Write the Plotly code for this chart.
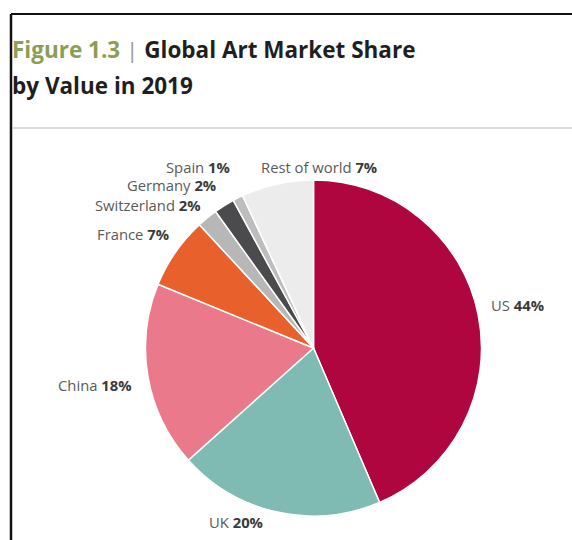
import plotly.graph_objects as go

# ---- data ----
countries = ["US", "UK", "China", "France", "Switzerland", "Germany", "Spain", "Rest of world"]
shares = [44, 20, 18, 7, 2, 2, 1, 7]
colors = ["#b0063f", "#7fbab3", "#ea7a8b", "#e8612c", "#b7b7b7", "#4b4b4d", "#bdbdbd", "#ececec"]

W, H = 572, 540

def px(x):
    return x / W

def py(y):
    return 1 - y / H

# pie placement (pixels): center and radius
cx, cy, r = 313.5, 348, 168

fig = go.Figure(go.Pie(
    labels=countries,
    values=shares,
    sort=False,
    direction="clockwise",
    rotation=0,
    marker=dict(colors=colors, line=dict(color="white", width=1.5)),
    textinfo="none",
    hoverinfo="label+percent",
    showlegend=False,
    domain=dict(x=[px(cx - r), px(cx + r)], y=[py(cy + r), py(cy - r)]),
))

# label placement (pixels): x, y, xanchor
label_pos = [
    (489, 305, "left"),
    (236, 522, "center"),
    (134, 385, "right"),
    (171, 234, "right"),
    (203, 205, "right"),
    (218, 185, "right"),
    (232, 167, "right"),
    (259, 167, "left"),
]

annotations = []
for name, v, (x, y, xa) in zip(countries, shares, label_pos):
    annotations.append(dict(
        x=px(x), y=py(y), xref="paper", yref="paper",
        xanchor=xa, yanchor="middle", showarrow=False,
        text=f"<span style='color:#5a5a5a'>{name}</span> <b>{v}%</b>",
        font=dict(family="Open Sans, sans-serif", size=14.8, color="#3a3a3a"),
    ))

title_font = dict(family="Open Sans, sans-serif", size=22.5, color="#1f1f1f", weight="bold")
annotations.append(dict(
    x=px(10), y=py(49), xref="paper", yref="paper", xanchor="left", yanchor="middle",
    showarrow=False,
    text="<span style='color:#8c9d55'>Figure 1.3</span><span style='color:#999999;font-weight:normal'> | </span>Global Art Market Share",
    font=title_font,
))
annotations.append(dict(
    x=px(10), y=py(86), xref="paper", yref="paper", xanchor="left", yanchor="middle",
    showarrow=False,
    text="by Value in 2019",
    font=title_font,
))

shapes = [
    dict(type="line", xref="paper", yref="paper", x0=px(11), x1=1, y0=py(14), y1=py(14),
         line=dict(color="#111111", width=2)),
    dict(type="line", xref="paper", yref="paper", x0=px(11), x1=px(11), y0=py(14), y1=0,
         line=dict(color="#111111", width=2.5)),
    dict(type="line", xref="paper", yref="paper", x0=px(13), x1=1, y0=py(128), y1=py(128),
         line=dict(color="#dcdcdc", width=2)),
]

fig.update_layout(
    width=W, height=H,
    margin=dict(l=0, r=0, t=0, b=0),
    paper_bgcolor="white",
    plot_bgcolor="white",
    annotations=annotations,
    shapes=shapes,
)

fig.write_html("out.html", config={"displayModeBar": False},
               post_script="document.body.style.margin='0';")
